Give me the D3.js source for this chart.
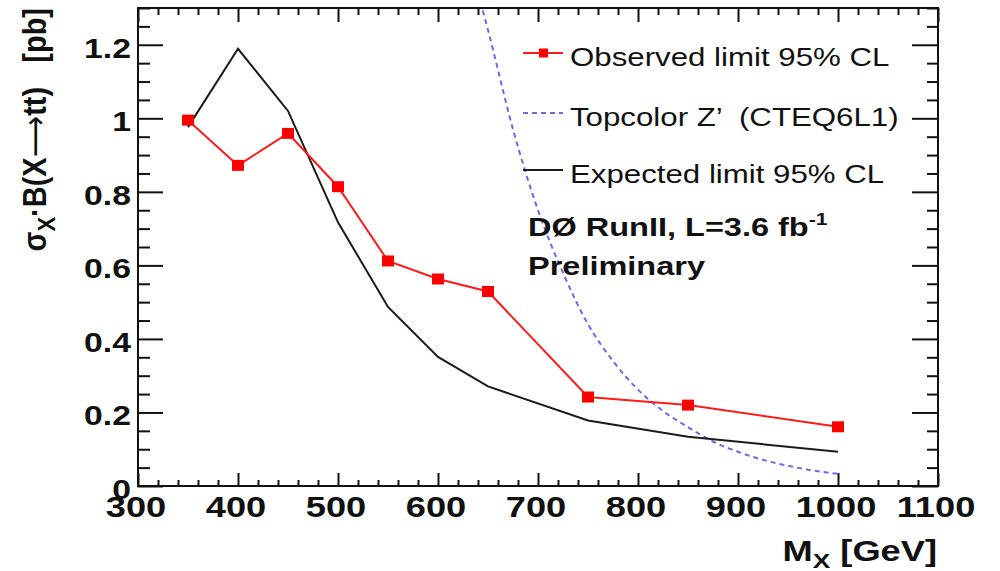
<!DOCTYPE html>
<html>
<head>
<meta charset="utf-8">
<script src="https://cdn.jsdelivr.net/npm/d3@7"></script>
<style>
  body { margin: 0; background: #fff; }
  svg { display: block; font-family: "Liberation Sans", Arial, sans-serif; }
  text { white-space: pre; }
</style>
</head>
<body>
<div class="chart"></div>
<script>
// data
var mass = [350, 400, 450, 500, 550, 600, 650, 750, 850, 1000]
var observed = [0.995, 0.872, 0.959, 0.814, 0.612, 0.563, 0.529, 0.242, 0.220, 0.161]
var expected = [0.976, 1.189, 1.020, 0.717, 0.487, 0.351, 0.271, 0.178, 0.134, 0.093]

var tcMass = [640, 650, 675, 700, 725, 750, 775, 800, 825, 850, 875, 900, 925, 950, 975, 1000]
var tcXsec = [1.34, 1.24, 0.97, 0.75, 0.58, 0.44, 0.34, 0.262, 0.204, 0.160, 0.121, 0.093, 0.071, 0.055, 0.042, 0.033]

var xTicks = [300, 400, 500, 600, 700, 800, 900, 1000, 1100]
var yTicks = [0, 0.2, 0.4, 0.6, 0.8, 1, 1.2]
var yTickLabels = ["0", "0.2", "0.4", "0.6", "0.8", "1", "1.2"]

var legendLabels = ["Observed limit 95% CL", "Topcolor Z\u2019  (CTEQ6L1)", "Expected limit 95% CL"]

var svg_width = 1000
var svg_height = 571
var stretch = 1.25   // the picture is wider than tall, text looks stretched

var plot = { left: 138, top: 8, right: 938, bottom: 486 }

var svg = d3.select(".chart")
	.append("svg")
	.attr("width", svg_width)
	.attr("height", svg_height)

var xScale = d3.scaleLinear().domain([300, 1100]).range([plot.left, plot.right])
var yScale = d3.scaleLinear().domain([0, 1.3]).range([plot.bottom, plot.top])

var xMinor = d3.range(300, 1101, 20).filter(v => v % 100 !== 0)
var yMinor = d3.range(0, 27).filter(i => i % 4 !== 0).map(i => i * 0.05)

function drawAxis(axisFn, scale, pos, values, size) {
	var g = svg.append("g")
		.attr("transform", pos)
		.call(axisFn(scale).tickValues(values).tickSize(-size).tickSizeOuter(0).tickFormat(""))
	g.select(".domain").remove()
	g.selectAll(".tick line").attr("stroke", "#111").attr("stroke-width", 2)
}

// ticks on all four sides, pointing inwards
drawAxis(d3.axisBottom, xScale, `translate(0,${plot.bottom})`, xTicks, 13)
drawAxis(d3.axisBottom, xScale, `translate(0,${plot.bottom})`, xMinor, 6)
drawAxis(d3.axisTop, xScale, `translate(0,${plot.top})`, xTicks, 14)
drawAxis(d3.axisTop, xScale, `translate(0,${plot.top})`, xMinor, 7)
drawAxis(d3.axisLeft, yScale, `translate(${plot.left},0)`, yTicks, 25)
drawAxis(d3.axisLeft, yScale, `translate(${plot.left},0)`, yMinor, 12)
drawAxis(d3.axisRight, yScale, `translate(${plot.right},0)`, yTicks, 26)
drawAxis(d3.axisRight, yScale, `translate(${plot.right},0)`, yMinor, 11)

// frame
svg.append("rect")
	.attr("x", plot.left).attr("y", plot.top)
	.attr("width", plot.right - plot.left).attr("height", plot.bottom - plot.top)
	.attr("fill", "none").attr("stroke", "#111").attr("stroke-width", 2)

// tick labels
svg.selectAll(".xlab")
	.data(xTicks)
	.enter().append("text")
	.attr("transform", d => `translate(${xScale(d) - 2},517) scale(${stretch},1)`)
	.attr("text-anchor", "middle")
	.attr("font-size", 29).attr("font-weight", "bold").attr("fill", "#111")
	.text(d => d)

svg.selectAll(".ylab")
	.data(yTicks)
	.enter().append("text")
	.attr("transform", d => `translate(131,${yScale(d) + 13}) scale(${stretch},1)`)
	.attr("text-anchor", "end")
	.attr("font-size", 27).attr("font-weight", "bold").attr("fill", "#111")
	.text((d, i) => yTickLabels[i])

// axis titles
var xt = svg.append("text")
	.attr("transform", `translate(937,561) scale(${stretch},1)`)
	.attr("text-anchor", "end")
	.attr("font-size", 29).attr("font-weight", "bold").attr("fill", "#111")
xt.append("tspan").text("M")
xt.append("tspan").attr("font-size", 21).attr("dy", 7).text("X")
xt.append("tspan").attr("dy", -7).text(" [GeV]")

var yt = svg.append("text")
	.attr("transform", `translate(46,8) scale(1.12,1) rotate(-90)`)
	.attr("text-anchor", "end")
	.attr("font-size", 29).attr("font-weight", "bold").attr("fill", "#111")
yt.append("tspan").text("\u03c3")
yt.append("tspan").attr("font-size", 22).attr("dy", 8).text("X")
yt.append("tspan").attr("dy", -8).text("\u00b7B(X")
yt.append("tspan").attr("font-family", "DejaVu Sans").attr("font-weight", "normal").text("\u27f6")
yt.append("tspan").text("tt)   [pb]")

// plot area clip for the theory curve
svg.append("clipPath").attr("id", "clip")
	.append("rect")
	.attr("x", plot.left).attr("y", plot.top)
	.attr("width", plot.right - plot.left).attr("height", plot.bottom - plot.top)

var tcLine = d3.line()
	.x((d, i) => xScale(tcMass[i]))
	.y(d => yScale(d))
	.curve(d3.curveMonotoneX)

svg.append("path")
	.datum(tcXsec)
	.attr("clip-path", "url(#clip)")
	.attr("d", tcLine)
	.attr("fill", "none")
	.attr("stroke", "#6b6bea")
	.attr("stroke-width", 2)
	.attr("stroke-dasharray", "5,4")

var limLine = d3.line()
	.x((d, i) => xScale(mass[i]))
	.y(d => yScale(d))

svg.append("path")
	.datum(expected)
	.attr("d", limLine)
	.attr("fill", "none")
	.attr("stroke", "#1a1a1a")
	.attr("stroke-width", 2)

svg.append("path")
	.datum(observed)
	.attr("d", limLine)
	.attr("fill", "none")
	.attr("stroke", "#ff1a1a")
	.attr("stroke-width", 2)

svg.selectAll(".obs")
	.data(observed)
	.enter().append("rect")
	.attr("x", (d, i) => xScale(mass[i]) - 6)
	.attr("y", d => yScale(d) - 5.5)
	.attr("width", 12).attr("height", 11)
	.attr("fill", "#ff0000")

// legend
var legY = [53, 113, 170]
var leg = svg.append("g")
legendLabels.forEach(function(lab, i) {
	var line = leg.append("line")
		.attr("x1", 523).attr("x2", 563)
		.attr("y1", legY[i]).attr("y2", legY[i])
		.attr("stroke-width", 2)
	if (i == 0) {
		line.attr("stroke", "#ff1a1a")
		leg.append("rect").attr("x", 539).attr("y", legY[i] - 4.5)
			.attr("width", 9).attr("height", 9).attr("fill", "#ff0000")
	} else if (i == 1) {
		line.attr("stroke", "#6b6bea").attr("stroke-dasharray", "5,4")
	} else {
		line.attr("stroke", "#1a1a1a")
	}
	leg.append("text")
		.attr("transform", `translate(570,${legY[i] + 13}) scale(${stretch},1)`)
		.attr("font-size", 25).attr("fill", "#111")
		.text(lab)
})

// experiment label
var lab1 = svg.append("text")
	.attr("transform", `translate(528,236) scale(${stretch},1)`)
	.attr("font-size", 26).attr("font-weight", "bold").attr("fill", "#111")
lab1.append("tspan").text("D\u00d8 RunII, L=3.6 fb")
lab1.append("tspan").attr("font-size", 17).attr("dy", -11).text("-1")

svg.append("text")
	.attr("transform", `translate(528,275) scale(${stretch},1)`)
	.attr("font-size", 26).attr("font-weight", "bold").attr("fill", "#111")
	.text("Preliminary")
</script>
</body>
</html>
